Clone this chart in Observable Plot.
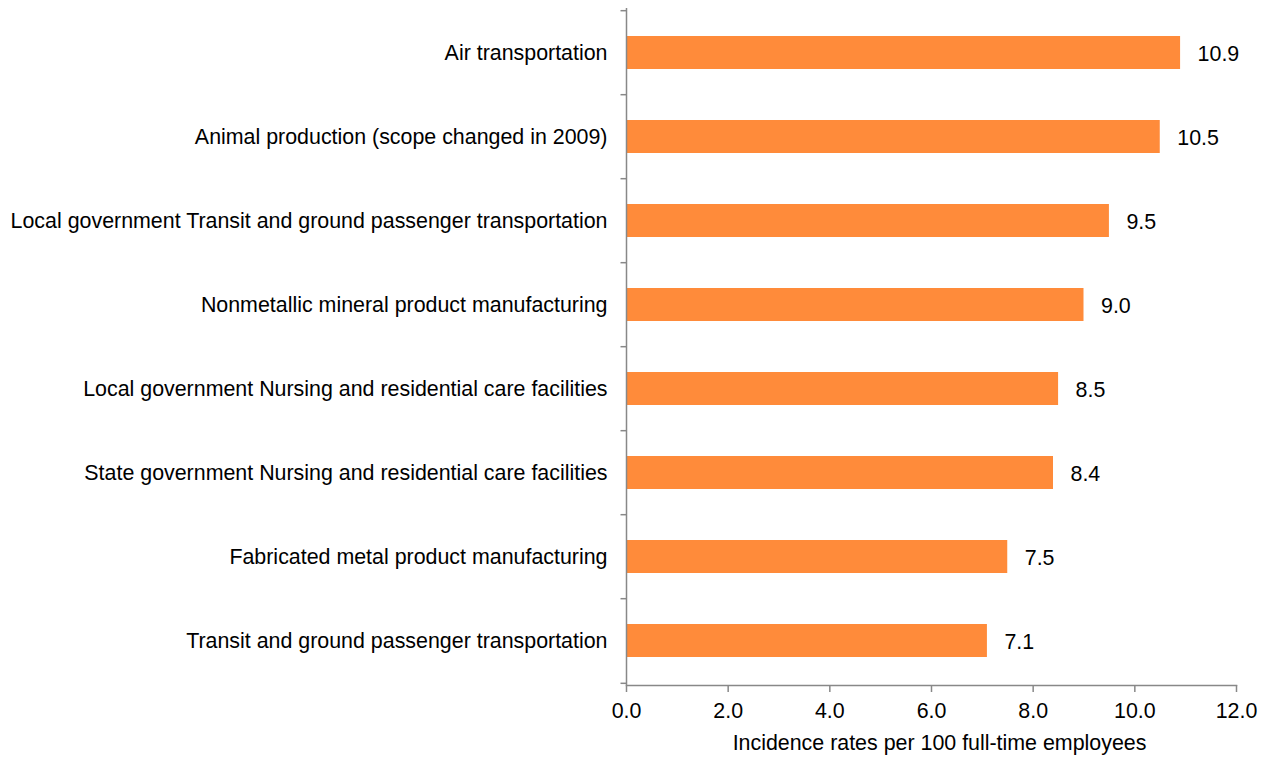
<!DOCTYPE html>
<html><head><meta charset="utf-8">
<script src="https://cdn.jsdelivr.net/npm/d3@7"></script>
<script src="https://cdn.jsdelivr.net/npm/@observablehq/plot@0.6"></script>
<style>body{margin:0;background:#fff;font-family:"Liberation Sans",Arial,sans-serif}</style>
</head><body><div id="chart"></div>
<script>
const categories = [
  "Air transportation",
  "Animal production (scope changed in 2009)",
  "Local government Transit and ground passenger transportation",
  "Nonmetallic mineral product manufacturing",
  "Local government Nursing and residential care facilities",
  "State government Nursing and residential care facilities",
  "Fabricated metal product manufacturing",
  "Transit and ground passenger transportation"
];
const values = [10.9, 10.5, 9.5, 9.0, 8.5, 8.4, 7.5, 7.1];
const xTicks = [0, 2, 4, 6, 8, 10, 12];
const xTitle = "Incidence rates per 100 full-time employees";

const data = categories.map((c, i) => ({category: c, value: values[i]}));

const W = 1271, H = 758, mTop = 8, mBottom = 73, mLeft = 626, mRight = 35;
const FS = 21.4;
const step = (H - mTop - mBottom) / categories.length;
const tickSym = {draw(ctx) { ctx.moveTo(-6, 0); ctx.lineTo(0, 0); }};

const chart = Plot.plot({
  width: W, height: H,
  marginTop: mTop, marginBottom: mBottom, marginLeft: mLeft, marginRight: mRight,
  style: {fontFamily: '"Liberation Sans", Arial, sans-serif', fontSize: FS + "px", color: "#000", background: "#fff"},
  x: {domain: [0, 12], ticks: xTicks, tickFormat: d3.format(".1f")},
  y: {domain: categories, paddingInner: 0.61, paddingOuter: 0.305},
  marks: [
    Plot.barX(data, {x: "value", y: "category", fill: "#FF8B3A"}),
    Plot.text(data, {x: "value", y: "category", text: d => d.value.toFixed(1), textAnchor: "start", dx: 17, dy: 1, fontSize: FS, fill: "#000"}),
    Plot.axisY({tickSize: 0, tickPadding: 19, fontSize: FS, label: null}),
    Plot.ruleX([0], {stroke: "#888", strokeWidth: 1.5}),
    Plot.frame({anchor: "bottom", stroke: "#888", strokeWidth: 1.5}),
    Plot.dot(categories, {x: () => 0, y: d => d, dy: -step / 2, symbol: tickSym, stroke: "#888", strokeWidth: 1.5}),
    Plot.dot([categories[categories.length - 1]], {x: () => 0, y: d => d, dy: step / 2, symbol: tickSym, stroke: "#888", strokeWidth: 1.5}),
    Plot.axisX({ticks: xTicks, tickFormat: d3.format(".1f"), tickSize: 7, tickPadding: 10, stroke: "#888", strokeWidth: 1.5, fontSize: FS, label: null}),
    Plot.text([xTitle], {frameAnchor: "bottom", dy: 64, dx: 8, fontSize: FS, fill: "#000"})
  ]
});
document.getElementById("chart").appendChild(chart);
</script></body></html>
